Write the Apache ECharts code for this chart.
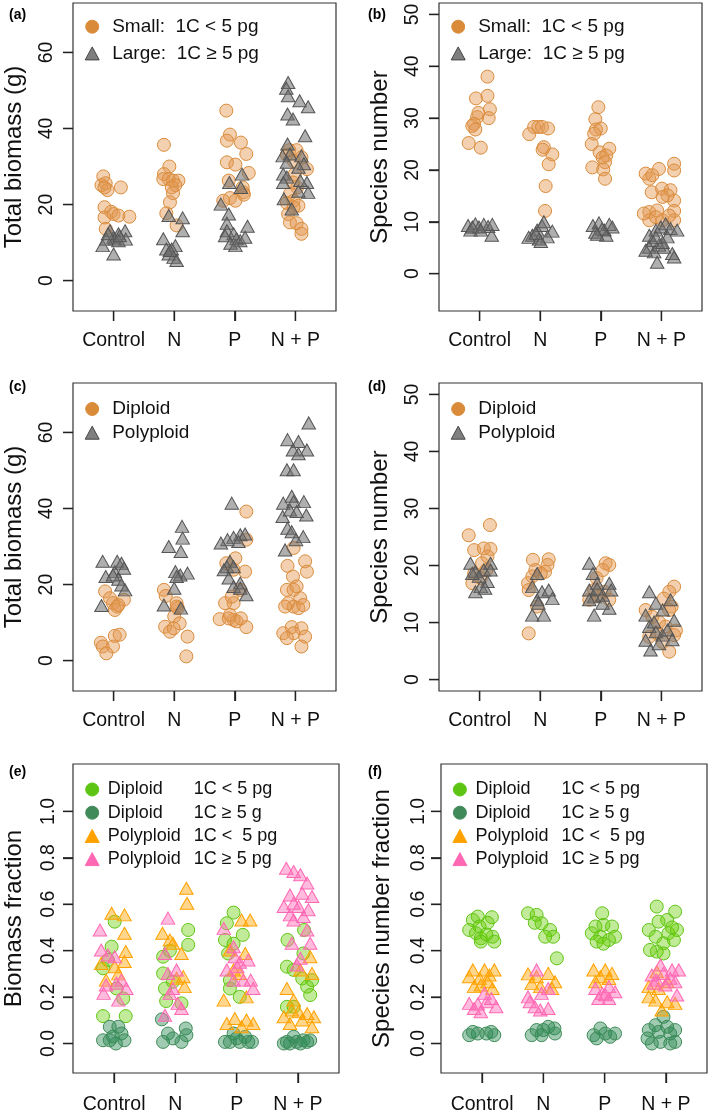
<!DOCTYPE html>
<html>
<head>
<meta charset="utf-8">
<script src="https://cdn.jsdelivr.net/npm/echarts@6/dist/echarts.min.js"></script>
<style>
html,body{margin:0;padding:0;background:#fff;}
#chart{width:709px;height:1118px;}
</style>
</head>
<body>
<div id="chart"></div>
<script>
// ---------- data ----------
const categories = ['Control', 'N', 'P', 'N + P'];
const categoryTicks = [1, 2, 3, 4];
const ticksBiomass = [0, 20, 40, 60];
const ticksSpecies = [0, 10, 20, 30, 40, 50];
const ticksFraction = [0, 0.2, 0.4, 0.6, 0.8, 1.0];

// (a) total biomass by genome size  [jittered treatment position, value]
const aSmall = [
[0.83,27.4],[0.80,25.1],[0.87,25.6],[0.90,23.8],[0.85,24.5],[1.12,24.5],[0.85,19.3],[0.96,18.1],[1.00,17.5],[0.85,16.6],[1.08,17.1],[1.26,16.8],[0.87,13.6],
[1.83,35.7],[1.92,30.0],[1.83,28.0],[1.82,26.7],[1.91,26.7],[1.98,26.3],[2.07,26.3],[2.02,25.1],[1.96,24.5],[1.98,23.0],[1.93,20.6],[1.87,17.7],[2.04,14.5],
[2.86,44.7],[2.92,38.4],[2.87,36.8],[3.10,36.3],[3.19,33.3],[2.87,31.1],[3.01,30.5],[3.23,28.3],[2.90,26.3],[3.13,24.5],[3.14,23.2],[2.92,21.7],[2.81,21.0],[3.01,21.0],[3.15,22.6],
[3.86,33.1],[3.90,34.3],[4.02,34.3],[4.10,32.4],[3.97,31.5],[4.19,29.3],[3.99,28.0],[3.96,25.8],[4.03,24.5],[3.91,22.8],[3.97,21.0],[3.86,20.4],[4.05,19.7],[3.97,19.3],[3.88,17.5],[3.91,15.3],[4.02,15.1],[4.10,13.6],[4.10,12.3]
];
const aLarge = [
[0.82,9.2],[0.94,13.1],[1.00,11.4],[1.08,12.3],[1.02,10.9],[1.19,13.1],[1.20,10.9],[1.00,7.0],[0.88,10.9],[1.08,10.5],[0.91,12.3],[1.10,11.8],
[1.91,17.1],[2.14,16.5],[2.14,13.1],[1.82,11.0],[2.02,9.2],[1.96,8.3],[1.87,8.3],[1.91,7.0],[1.99,6.1],[2.04,5.3],[1.93,7.9],
[2.77,20.1],[2.91,25.8],[3.12,28.0],[3.10,24.5],[2.90,17.5],[2.87,15.1],[2.87,13.1],[3.21,14.3],[2.98,12.3],[2.84,11.8],[3.03,11.0],[2.93,9.8],[3.09,10.5],[3.01,9.2],[3.17,11.4],
[3.88,52.1],[3.85,50.6],[3.88,48.6],[4.07,47.3],[4.21,45.7],[3.87,43.8],[3.96,42.5],[4.16,38.1],[3.87,35.9],[3.91,33.3],[3.79,32.8],[3.86,31.1],[4.10,32.8],[4.14,30.7],[4.05,29.8],[3.80,28.0],[3.86,27.2],[3.80,25.8],[4.19,25.8],[4.08,26.3],[4.21,23.2],[4.05,23.5],[3.81,21.5],[3.94,18.8]
];

// (b) species number by genome size
const bSmall = [
[1.13,38.0],[0.94,33.8],[1.13,34.3],[1.17,31.7],[0.96,30.2],[1.15,30.0],[0.91,28.9],[0.88,28.5],[0.93,27.8],[0.82,25.2],[1.02,24.3],[0.98,31.0],
[1.82,26.9],[1.90,28.3],[1.97,28.3],[2.03,28.3],[2.13,28.0],[2.06,24.4],[2.04,23.9],[2.20,23.0],[2.14,21.1],[2.09,16.9],[2.08,12.1],
[2.96,32.1],[2.91,29.8],[3.00,28.0],[2.92,27.8],[2.89,27.0],[2.85,25.0],[2.98,23.4],[3.14,24.1],[3.03,22.4],[3.09,22.8],[2.86,20.5],[3.07,21.5],[3.04,20.1],[3.07,18.3],
[3.80,18.3],[3.74,19.3],[3.85,19.0],[3.96,20.2],[4.21,21.2],[4.21,19.9],[3.84,15.7],[4.01,16.4],[4.15,16.1],[4.21,14.1],[4.10,15.1],[4.02,14.8],[4.21,12.1],[3.80,11.9],[3.93,12.2],[3.80,10.3],[4.02,10.3],[4.21,10.3],[4.13,11.2],[3.91,10.9],[3.71,11.6]
];
const bLarge = [
[0.81,9.3],[0.85,8.4],[0.93,9.6],[0.99,9.0],[1.07,9.5],[1.14,9.1],[1.21,9.5],[1.20,7.4],[0.88,9.0],[1.02,8.4],
[1.87,7.4],[1.95,8.4],[2.03,9.3],[2.06,10.0],[1.98,6.7],[2.20,8.2],[2.12,7.1],[2.01,6.2],[1.81,7.0],[1.93,7.8],
[2.87,9.3],[2.97,9.8],[3.06,8.4],[3.14,9.5],[3.19,9.0],[2.91,8.0],[3.09,7.4],[3.02,8.6],[2.94,7.6],
[3.85,6.4],[3.80,7.4],[3.91,8.4],[3.99,9.0],[4.07,9.6],[4.15,8.7],[4.26,8.4],[3.80,5.1],[3.88,4.2],[3.93,2.2],[4.04,5.1],[4.18,3.9],[4.21,3.2],[4.10,7.1],[3.96,5.5],[3.74,4.5],[4.02,6.0],[3.91,7.0]
];

// (c) total biomass by ploidy
const cDiploid = [
[0.86,18.2],[0.94,16.4],[0.99,15.1],[1.06,14.2],[1.17,16.0],[1.02,13.3],[1.08,14.6],[0.79,4.7],[0.82,3.7],[0.99,3.7],[0.88,1.9],[1.02,6.5],[1.10,6.8],
[1.83,18.6],[1.86,17.0],[2.04,15.1],[2.06,13.8],[2.00,11.6],[2.09,9.8],[1.85,8.9],[1.93,7.6],[1.99,8.5],[2.22,6.3],[2.20,1.1],[2.04,14.2],
[3.19,39.2],[3.19,31.8],[3.01,26.9],[3.17,23.4],[2.86,25.6],[2.98,23.9],[2.84,15.1],[2.98,15.1],[2.95,16.8],[3.09,18.6],[2.75,10.9],[2.98,10.7],[2.90,11.1],[3.03,10.3],[3.19,8.8],[2.92,12.0],[3.10,11.1],
[3.97,29.6],[4.16,26.1],[4.19,23.4],[3.87,24.9],[3.96,22.1],[3.86,18.6],[3.97,18.6],[4.02,19.5],[4.08,16.4],[3.88,15.1],[3.97,14.2],[4.05,13.8],[4.13,14.6],[3.83,14.2],[3.80,7.2],[3.94,8.8],[4.10,8.5],[3.97,7.2],[4.16,6.3],[4.10,3.7],[3.86,5.9]
];
const cPolyploid = [
[0.82,26.1],[0.87,22.1],[0.80,14.5],[1.02,23.4],[1.06,26.1],[1.13,25.6],[1.17,24.3],[1.08,21.4],[1.13,19.9],[1.19,18.6],[0.99,22.5],
[1.91,30.0],[2.13,35.3],[2.14,32.2],[2.11,28.7],[2.02,23.4],[2.10,22.5],[2.22,23.0],[2.00,19.0],[1.83,14.6],[2.11,13.8],[2.04,22.1],
[2.95,41.4],[3.09,33.1],[2.98,32.4],[2.88,31.8],[3.17,33.3],[3.06,31.3],[2.77,30.9],[2.92,26.1],[2.87,24.7],[2.98,24.7],[2.82,23.9],[2.90,21.7],[3.09,20.4],[2.98,19.5],[3.09,19.0],[3.19,17.3],
[4.22,62.5],[3.87,58.1],[4.05,57.6],[4.19,55.4],[3.96,55.4],[4.05,54.4],[3.86,50.2],[3.97,50.2],[3.94,43.2],[3.80,41.4],[3.97,41.8],[4.14,41.8],[4.18,38.3],[3.79,37.9],[3.91,39.6],[4.02,39.2],[3.87,34.8],[3.94,33.9],[4.13,32.6],[4.01,31.8],[3.83,29.1]
];

// (d) species number by ploidy
const dDiploid = [
[0.82,25.3],[1.17,27.1],[0.91,22.7],[1.07,23.0],[1.18,22.9],[1.04,20.4],[0.91,18.6],[0.88,16.9],[1.11,19.2],[1.02,17.8],[1.13,21.6],
[1.88,21.0],[2.14,21.1],[2.08,18.9],[2.12,20.1],[1.87,18.1],[1.80,16.9],[1.81,15.7],[1.95,12.8],[1.81,8.1],[1.92,19.2],[2.01,18.6],
[3.08,20.4],[3.14,20.1],[3.03,19.2],[2.93,17.8],[2.89,15.7],[3.06,15.4],[2.81,14.0],[3.14,14.0],[2.97,14.6],
[4.21,16.3],[4.13,15.4],[4.04,14.2],[4.17,12.8],[3.74,12.2],[3.85,11.0],[3.96,10.1],[4.07,9.3],[4.21,7.8],[4.13,4.9],[3.93,8.1],[3.80,7.5],[4.02,6.6],[4.13,12.2],[4.24,8.6]
];
const dPolyploid = [
[0.85,20.4],[0.93,15.4],[1.07,19.2],[1.18,20.4],[1.13,17.2],[1.02,16.3],[1.09,16.0],[1.18,19.2],[0.93,18.9],[0.99,18.1],[0.88,18.6],
[1.95,18.6],[1.87,16.3],[2.03,15.4],[2.14,15.7],[1.95,14.0],[2.20,14.2],[1.87,11.3],[2.06,11.3],[1.97,13.4],
[2.81,20.4],[2.87,18.6],[2.94,16.9],[2.81,15.7],[2.89,14.5],[2.81,14.0],[3.03,14.8],[3.14,16.9],[3.17,15.7],[3.14,12.5],[2.89,11.3],[3.03,13.4],[2.94,15.9],
[3.80,15.4],[3.74,11.3],[3.91,13.4],[4.02,12.2],[4.15,14.0],[4.21,10.4],[3.80,9.3],[3.91,8.4],[4.02,7.8],[4.10,8.7],[3.74,6.9],[3.82,5.2],[3.96,6.3],[4.18,7.0],[3.88,10.1]
];

// (e) biomass fraction
const eDipSmall = [
[1.01,.525],[0.96,.417],[0.82,.324],[0.90,.36],[1.15,.194],[1.04,.237],[0.82,.118],[1.19,.118],
[1.80,.374],[1.80,.302],[1.83,.237],[1.85,.183],[2.21,.489],[2.21,.425],[1.96,.266],[2.10,.173],[1.91,.40],
[2.95,.564],[2.84,.518],[3.10,.468],[2.81,.446],[2.86,.388],[2.89,.237],[2.89,.273],[3.05,.201],[2.95,.43],
[3.83,.446],[4.10,.489],[3.82,.331],[3.93,.317],[4.09,.388],[4.23,.273],[4.15,.245],[4.20,.209],[3.82,.158],[3.93,.158],[4.07,.28]
];
const eDipLarge = [
[0.93,.072],[1.07,.072],[1.12,.043],[0.82,.014],[0.93,.014],[1.03,0],[1.17,.014],[0.98,.03],
[1.78,.104],[1.80,.007],[1.88,.043],[1.96,.022],[2.10,.007],[2.17,.065],[2.18,.036],
[2.89,.007],[2.95,.043],[3.05,.007],[3.14,.029],[3.19,.007],[3.25,.007],[2.81,.007],[3.00,.022],
[3.77,0],[3.87,0],[3.98,.007],[4.09,.014],[4.20,.014],[3.93,.029],[3.82,.007],[4.04,0],[4.15,.007]
];
const ePolySmall = [
[0.96,.561],[1.17,.554],[1.17,.475],[1.19,.396],[0.79,.345],[1.01,.331],[1.17,.353],[0.87,.273],[1.07,.30],
[2.18,.669],[2.19,.604],[1.79,.475],[1.91,.446],[1.96,.432],[2.10,.388],[2.13,.288],[2.15,.245],[2.02,.281],
[3.08,.532],[3.22,.532],[2.79,.187],[2.84,.086],[2.97,.108],[3.16,.101],[3.08,.072],[3.27,.086],[2.89,.403],[2.95,.317],[3.14,.388],[3.05,.302],[3.16,.201],
[3.82,.237],[4.04,.317],[4.20,.374],[4.23,.302],[3.90,.144],[4.01,.137],[4.15,.129],[4.26,.115],[3.77,.115],[3.87,.086],[4.07,.101],[4.23,.072],[3.93,.187]
];
const ePolyLarge = [
[0.77,.489],[0.79,.403],[0.90,.381],[1.01,.374],[0.87,.252],[0.83,.216],[1.07,.187],[1.12,.273],[1.20,.237],[1.04,.26],
[1.88,.540],[1.83,.388],[2.02,.317],[1.88,.302],[1.96,.237],[2.04,.173],[1.83,.122],[2.10,.151],[1.91,.216],
[2.79,.496],[2.95,.417],[2.97,.374],[2.84,.317],[3.01,.331],[3.19,.36],[3.23,.273],[3.11,.273],[3.27,.237],[2.95,.273],[3.05,.35],
[3.81,.755],[3.93,.741],[4.04,.727],[4.15,.691],[3.87,.640],[4.07,.647],[4.23,.633],[3.93,.604],[3.77,.590],[4.01,.590],[4.17,.576],[3.87,.554],[4.09,.547],[3.93,.532],[4.15,.489],[4.20,.432],[3.90,.432],[4.04,.367],[3.98,.338]
];

// (f) species number fraction
const fDipSmall = [
[0.85,.532],[0.93,.547],[1.16,.544],[0.79,.489],[0.96,.504],[0.90,.475],[0.98,.453],[0.98,.439],[1.17,.460],[1.20,.439],[1.07,.47],[1.09,.52],
[1.75,.561],[1.89,.554],[1.97,.518],[2.11,.489],[2.16,.460],[2.03,.460],[2.22,.367],[1.86,.52],
[2.96,.561],[2.85,.504],[2.98,.511],[3.12,.504],[2.79,.475],[2.93,.460],[3.07,.446],[2.87,.439],[3.17,.46],[2.98,.43],
[3.85,.590],[4.02,.532],[4.15,.568],[3.88,.525],[3.72,.489],[4.04,.475],[4.18,.489],[3.83,.460],[3.96,.432],[4.13,.446],[3.85,.396],[3.96,.388],[3.74,.403],[4.10,.50]
];
const fDipLarge = [
[0.79,.036],[0.93,.043],[1.07,.043],[1.15,.050],[1.20,.036],[0.85,.05],
[1.81,.036],[1.89,.058],[2.00,.058],[2.08,.072],[2.18,.065],[2.19,.043],[1.97,.036],
[2.82,.036],[2.93,.065],[3.01,.043],[3.09,.029],[3.17,.043],[2.87,.022],
[3.96,.115],[3.83,.079],[4.02,.072],[3.72,.058],[3.88,.050],[4.07,.043],[4.15,.058],[3.77,0],[3.91,.007],[4.07,0],[4.15,.007],[3.70,.022]
];
const fPolySmall = [
[0.85,.317],[1.04,.317],[1.20,.317],[0.79,.288],[0.96,.281],[1.12,.295],[0.98,.252],[1.17,.237],[0.87,.245],[1.09,.266],
[1.89,.288],[2.08,.302],[2.19,.266],[1.81,.259],[1.95,.245],[2.14,.237],[1.75,.30],
[2.82,.317],[3.01,.317],[3.12,.302],[2.93,.288],[2.85,.266],[3.07,.28],
[3.85,.309],[4.02,.266],[3.72,.245],[3.88,.237],[3.72,.201],[3.83,.187],[4.02,.180],[4.15,.173],[3.93,.144]
];
const fPolyLarge = [
[0.79,.173],[0.87,.151],[0.98,.137],[1.07,.180],[1.15,.194],[1.23,.158],[1.04,.216],[0.93,.17],
[1.89,.317],[1.75,.201],[1.97,.216],[2.08,.237],[1.86,.158],[1.95,.144],[2.08,.151],[1.78,.18],
[2.85,.237],[2.96,.216],[3.07,.245],[3.17,.223],[2.90,.194],[3.07,.194],[3.01,.21],
[3.91,.338],[4.10,.317],[4.21,.317],[3.77,.295],[3.96,.302],[4.07,.281],[3.85,.273],[4.15,.266],[3.99,.252],[4.18,.209],[3.80,.26]
];

// ---------- styling / layout ----------
const FONT = "'Liberation Sans', Arial, Helvetica, sans-serif";
const TXT = '#111';
const TICK_COLOR = '#222';
const C_ORANGE = '#D98B3A', F_ORANGE = 'rgba(226,150,80,0.45)';
const C_GRAY = '#555555', F_GRAY = 'rgba(110,110,110,0.55)';
const C_LG = '#5EC413', F_LG = 'rgba(102,204,0,0.4)';
const C_DG = '#3D8A57', F_DG = 'rgba(46,139,87,0.45)';
const C_OR = '#FFA200', F_OR = 'rgba(255,165,0,0.45)';
const C_PK = '#FF69B4', F_PK = 'rgba(255,105,180,0.45)';

const N_SMALL = 'Small:  1C < 5 pg', N_LARGE = 'Large:  1C \u2265 5 pg';
const N_DIP = 'Diploid', N_POLY = 'Polyploid';
const N_DS = 'DS', N_DL = 'DL', N_PS = 'PS', N_PL = 'PL';
const richLabel = {
  DS: ['Diploid', '1C < 5 pg'],
  DL: ['Diploid', '1C \u2265 5 g'],
  PS: ['Polyploid', '1C <  5 pg'],
  PL: ['Polyploid', '1C \u2265 5 pg']
};

const panels = [
  {l:73,  t:3,   w:263, h:308, ymin:-8,    ymax:73,    ticks:ticksBiomass,  dec:false, name:'Total biomass (g)',       nameGap:47, lm:16},
  {l:439, t:3,   w:263, h:308, ymin:-7.2,  ymax:52.2,  ticks:ticksSpecies,  dec:false, name:'Species number',          nameGap:47, lm:16},
  {l:73,  t:383, w:263, h:308, ymin:-8,    ymax:73,    ticks:ticksBiomass,  dec:false, name:'Total biomass (g)',       nameGap:47, lm:16},
  {l:439, t:383, w:263, h:308, ymin:-2,    ymax:52,    ticks:ticksSpecies,  dec:false, name:'Species number',          nameGap:47, lm:16},
  {l:73,  t:764, w:266, h:309, ymin:-0.127,ymax:1.204, ticks:ticksFraction, dec:true,  name:'Biomass fraction',        nameGap:47, lm:14},
  {l:441, t:764, w:266, h:309, ymin:-0.127,ymax:1.204, ticks:ticksFraction, dec:true,  name:'Species number fraction', nameGap:47, lm:12}
];

const grids = panels.map(p => ({left:p.l, top:p.t, width:p.w, height:p.h, show:true, borderColor:'#333', borderWidth:1.2, backgroundColor:'transparent'}));
const xAxes = panels.map((p, i) => ({
  type:'value', gridIndex:i, min:0.33, max:4.67,
  axisLine:{show:false, onZero:false}, splitLine:{show:false},
  axisTick:{show:true, customValues:categoryTicks, length:10, lineStyle:{color:TICK_COLOR, width:1.3}},
  axisLabel:{customValues:categoryTicks, formatter:v => categories[Math.round(v) - 1], margin: i >= 4 ? 22 : 20, fontSize:19.5, color:TXT, fontFamily:FONT}
}));
const yAxes = panels.map((p, i) => ({
  type:'value', gridIndex:i, min:p.ymin, max:p.ymax,
  axisLine:{show:false, onZero:false}, splitLine:{show:false},
  axisTick:{show:true, customValues:p.ticks, length:10, lineStyle:{color:TICK_COLOR, width:1.3}},
  axisLabel:{customValues:p.ticks, rotate:90, margin:p.lm, fontSize:19.5, color:TXT, fontFamily:FONT,
    formatter:v => p.dec ? Number(v).toFixed(1) : String(v)},
  name:p.name, nameLocation:'middle', nameGap:p.nameGap,
  nameTextStyle:{fontSize:24, color:TXT, fontFamily:FONT}
}));

function sc(name, idx, data, symbol, size, fill, stroke) {
  return {type:'scatter', name, xAxisIndex:idx, yAxisIndex:idx, data, symbol, symbolSize:size,
    itemStyle:{color:fill, borderColor:stroke, borderWidth:1, opacity:1},
    emphasis:{disabled:true}, silent:true, animation:false};
}
// outward tick marks (R style) placed through the axes' own scales
const TICK_LEN = 10;
function tickSeries(idx, xTicks, yTicks) {
  const data = xTicks.map(v => [v, 0]).concat(yTicks.map(v => [v, 1]));
  return {type:'custom', xAxisIndex:idx, yAxisIndex:idx, silent:true, animation:false, clip:false, z:5,
    data,
    renderItem:(params, api) => {
      const cs = params.coordSys;
      const v = api.value(0), kind = api.value(1);
      if (kind === 0) {
        const px = api.coord([v, panels[idx].ymin])[0];
        const y0 = cs.y + cs.height;
        return {type:'line', shape:{x1:px, y1:y0, x2:px, y2:y0 + TICK_LEN}, style:{stroke:TICK_COLOR, lineWidth:1.3}};
      }
      const py = api.coord([1, v])[1];
      return {type:'line', shape:{x1:cs.x - TICK_LEN, y1:py, x2:cs.x, y2:py}, style:{stroke:TICK_COLOR, lineWidth:1.3}};
    }};
}
const TRI = [13.5, 12];
const CIR = 13;
const series = [
  sc(N_SMALL, 0, aSmall, 'circle', CIR, F_ORANGE, C_ORANGE),
  sc(N_LARGE, 0, aLarge, 'triangle', TRI, F_GRAY, C_GRAY),
  sc(N_SMALL, 1, bSmall, 'circle', CIR, F_ORANGE, C_ORANGE),
  sc(N_LARGE, 1, bLarge, 'triangle', TRI, F_GRAY, C_GRAY),
  sc(N_DIP, 2, cDiploid, 'circle', CIR, F_ORANGE, C_ORANGE),
  sc(N_POLY, 2, cPolyploid, 'triangle', TRI, F_GRAY, C_GRAY),
  sc(N_DIP, 3, dDiploid, 'circle', CIR, F_ORANGE, C_ORANGE),
  sc(N_POLY, 3, dPolyploid, 'triangle', TRI, F_GRAY, C_GRAY),
  sc(N_DS, 4, eDipSmall, 'circle', CIR, F_LG, C_LG),
  sc(N_DL, 4, eDipLarge, 'circle', CIR, F_DG, C_DG),
  sc(N_PS, 4, ePolySmall, 'triangle', TRI, F_OR, C_OR),
  sc(N_PL, 4, ePolyLarge, 'triangle', TRI, F_PK, C_PK),
  sc(N_DS, 5, fDipSmall, 'circle', CIR, F_LG, C_LG),
  sc(N_DL, 5, fDipLarge, 'circle', CIR, F_DG, C_DG),
  sc(N_PS, 5, fPolySmall, 'triangle', TRI, F_OR, C_OR),
  sc(N_PL, 5, fPolyLarge, 'triangle', TRI, F_PK, C_PK)
].concat(panels.map((p, i) => tickSeries(i, categoryTicks, p.ticks)));

const itemSmall = {name:N_SMALL, icon:'circle', itemStyle:{color:C_ORANGE, borderColor:C_ORANGE, borderWidth:1}};
const itemLarge = {name:N_LARGE, icon:'triangle', itemStyle:{color:'#7F7F7F', borderColor:'#444', borderWidth:1}};
const itemDip = {name:N_DIP, icon:'circle', itemStyle:{color:C_ORANGE, borderColor:C_ORANGE, borderWidth:1}};
const itemPoly = {name:N_POLY, icon:'triangle', itemStyle:{color:'#7F7F7F', borderColor:'#444', borderWidth:1}};
const fracItems = [
  {name:N_DS, icon:'circle', itemStyle:{color:'#5EC413', borderColor:'#5EC413', borderWidth:1}},
  {name:N_DL, icon:'circle', itemStyle:{color:'#3F8A58', borderColor:'#3F8A58', borderWidth:1}},
  {name:N_PS, icon:'triangle', itemStyle:{color:'#FFA200', borderColor:'#FFA200', borderWidth:1}},
  {name:N_PL, icon:'triangle', itemStyle:{color:'#FF69B4', borderColor:'#FF69B4', borderWidth:1}}
];
function lg(left, top, data, gap, fs, padL, rich) {
  const o = {left, top, orient:'vertical', data, itemWidth:14, itemHeight:13, itemGap:gap,
    selectedMode:false, padding:0,
    textStyle:{fontSize:fs, lineHeight:fs + 1, color:TXT, fontFamily:FONT, padding:[0,0,0,padL]}};
  if (rich) {
    o.formatter = n => '{n|' + richLabel[n][0] + '}{v|' + richLabel[n][1] + '}';
    o.textStyle.rich = {n:{width:86, fontSize:fs, fontFamily:FONT, color:TXT}, v:{fontSize:fs, fontFamily:FONT, color:TXT}};
  }
  return o;
}
const legends = [
  lg(84.7, 16.7, [itemSmall, itemLarge], 6.7, 19, 8, false),
  lg(450.7, 16.7, [itemSmall, itemLarge], 6.7, 19, 8, false),
  lg(84.7, 399, [itemDip, itemPoly], 3.7, 19, 8, false),
  lg(450.7, 399, [itemDip, itemPoly], 3.7, 19, 8, false),
  lg(84.7, 780, fracItems, 4.2, 18, 3.6, true),
  lg(452.4, 780, fracItems, 4.2, 18, 3.6, true)
];

const panelLabels = [['(a)',9,8],['(b)',368,8],['(c)',9,380],['(d)',368,380],['(e)',9,765],['(f)',368,765]];
const graphic = panelLabels.map(([t, x, y]) => ({type:'text', left:x, top:y, silent:true,
  style:{text:t, font:'bold 14px ' + FONT, fill:'#000'}}));

const chart = echarts.init(document.getElementById('chart'));
chart.setOption({
  animation:false,
  grid:grids, xAxis:xAxes, yAxis:yAxes, series, legend:legends, graphic
});
</script>
</body>
</html>
